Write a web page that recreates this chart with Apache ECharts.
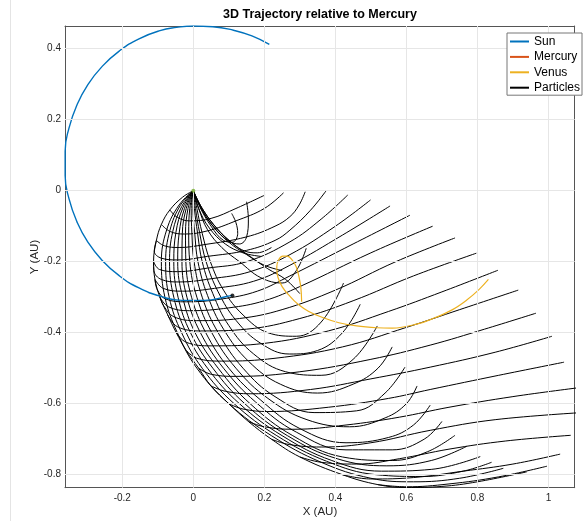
<!DOCTYPE html>
<html><head><meta charset="utf-8">
<script src="https://cdn.jsdelivr.net/npm/echarts@6/dist/echarts.min.js"></script>
<style>html,body{margin:0;padding:0;background:#fff}#c{width:586px;height:521px}</style>
</head><body><div id="c"></div>
<script>
const chartTitle = '3D Trajectory relative to Mercury';
const xName = 'X (AU)', yName = 'Y (AU)';
const xRange = [-0.3614, 1.074];
const yRange = [-0.8366, 0.464];
const xTicks = [-0.2, 0, 0.2, 0.4, 0.6, 0.8, 1];
const yTicks = [-0.8, -0.6, -0.4, -0.2, 0, 0.2, 0.4];
const legendNames = ['Sun', 'Mercury', 'Venus', 'Particles'];

const sunPath = [[0.214,0.412],[0.165,0.436],[0.113,0.452],[0.055,0.462],[0,0.464],[-0.047,0.46],[-0.094,0.451],[-0.153,0.428],[-0.208,0.394],[-0.256,0.351],[-0.297,0.299],[-0.328,0.241],[-0.35,0.177],[-0.361,0.111],[-0.361,0.043],[-0.35,-0.023],[-0.328,-0.087],[-0.297,-0.145],[-0.256,-0.197],[-0.208,-0.24],[-0.153,-0.274],[-0.094,-0.297],[-0.032,-0.309],[0.032,-0.309],[0.094,-0.298],[0.11,-0.295]];
const sunEnd = [[0.11,-0.295]];
const mercuryPath = [[0,0],[0,0]];
const mercuryMark = [[0,0]];
const venusPath = [[0.305,-0.313],[0.303,-0.275],[0.298,-0.245],[0.29,-0.215],[0.278,-0.195],[0.265,-0.184],[0.252,-0.184],[0.24,-0.195],[0.235,-0.215],[0.238,-0.243],[0.25,-0.27],[0.27,-0.295],[0.295,-0.32],[0.325,-0.34],[0.366,-0.358],[0.41,-0.372],[0.46,-0.381],[0.517,-0.386],[0.56,-0.387],[0.629,-0.376],[0.68,-0.358],[0.73,-0.335],[0.77,-0.308],[0.805,-0.278],[0.831,-0.25]];

// outer (left / bottom) particle envelope
const envelopePath = [[0,0],[-0.03,-0.018],[-0.066,-0.054],[-0.09,-0.095],[-0.104,-0.14],[-0.112,-0.2],[-0.108,-0.25],[-0.094,-0.3],[-0.072,-0.35],[-0.048,-0.4],[-0.02,-0.45],[0.015,-0.5],[0.05,-0.55],[0.1,-0.6],[0.155,-0.65],[0.22,-0.7],[0.3,-0.75],[0.42,-0.8],[0.52,-0.828],[0.6,-0.836],[0.7,-0.833],[0.8,-0.82],[0.939,-0.792]];
// arcs that leave the envelope (index of leaving point) and sweep right
const arcLeave = [2,3,4,4,5,5,6,6,7,7,8,9,10,11,12,13,14,15,16,17,18];
const arcPaths = [
 [[-0.045,-0.075],[-0.01,-0.085],[0.05,-0.078],[0.12,-0.05],[0.202,-0.012]],
 [[-0.065,-0.115],[-0.025,-0.122],[0.04,-0.113],[0.12,-0.085],[0.2,-0.05],[0.254,-0.006]],
 [[-0.082,-0.155],[-0.04,-0.16],[0.03,-0.152],[0.15,-0.13],[0.23,-0.1],[0.272,-0.073],[0.298,-0.04],[0.315,-0.003]],
 [[-0.11,-0.17],[-0.09,-0.19],[-0.045,-0.195],[0.04,-0.185],[0.15,-0.168],[0.23,-0.14],[0.272,-0.111],[0.33,-0.055],[0.374,0]],
 [[-0.095,-0.222],[-0.045,-0.228],[0.04,-0.218],[0.15,-0.2],[0.272,-0.144],[0.36,-0.08],[0.435,-0.012]],
 [[-0.111,-0.225],[-0.09,-0.25],[-0.04,-0.257],[0.05,-0.248],[0.16,-0.228],[0.272,-0.18],[0.4,-0.1],[0.499,-0.026]],
 [[-0.085,-0.275],[-0.03,-0.283],[0.06,-0.275],[0.17,-0.255],[0.272,-0.21],[0.42,-0.125],[0.554,-0.043]],
 [[-0.101,-0.28],[-0.078,-0.305],[-0.02,-0.313],[0.08,-0.305],[0.18,-0.283],[0.272,-0.24],[0.45,-0.15],[0.61,-0.069]],
 [[-0.07,-0.327],[-0.01,-0.338],[0.1,-0.33],[0.2,-0.31],[0.3,-0.27],[0.5,-0.175],[0.674,-0.1]],
 [[-0.083,-0.325],[-0.055,-0.355],[0.01,-0.366],[0.13,-0.36],[0.25,-0.335],[0.4,-0.28],[0.57,-0.2],[0.737,-0.133]],
 [[-0.045,-0.383],[0.02,-0.395],[0.15,-0.39],[0.3,-0.36],[0.45,-0.31],[0.62,-0.24],[0.797,-0.176]],
 [[-0.02,-0.427],[0.05,-0.437],[0.2,-0.43],[0.38,-0.395],[0.55,-0.34],[0.7,-0.285],[0.858,-0.224]],
 [[0.01,-0.472],[0.08,-0.48],[0.23,-0.472],[0.42,-0.44],[0.6,-0.385],[0.75,-0.335],[0.915,-0.28]],
 [[0.05,-0.517],[0.12,-0.523],[0.3,-0.51],[0.5,-0.475],[0.667,-0.435],[0.82,-0.39],[0.965,-0.345]],
 [[0.09,-0.565],[0.16,-0.572],[0.33,-0.56],[0.5,-0.53],[0.667,-0.497],[0.85,-0.455],[1.01,-0.41]],
 [[0.14,-0.615],[0.21,-0.622],[0.38,-0.61],[0.55,-0.585],[0.667,-0.56],[0.86,-0.52],[1.044,-0.483]],
 [[0.2,-0.665],[0.28,-0.672],[0.43,-0.66],[0.58,-0.638],[0.72,-0.61],[0.9,-0.58],[1.085,-0.555]],
 [[0.27,-0.715],[0.36,-0.722],[0.5,-0.71],[0.667,-0.675],[0.85,-0.645],[1.095,-0.625]],
 [[0.36,-0.765],[0.46,-0.77],[0.58,-0.755],[0.72,-0.728],[0.88,-0.705],[1.063,-0.689]],
 [[0.5,-0.812],[0.62,-0.808],[0.76,-0.79],[0.9,-0.77],[1.033,-0.742]],
 [[0.6,-0.834],[0.72,-0.826],[0.86,-0.806],[0.996,-0.776]]
];
// tracks fanning down from Mercury and turning up at the end
const fanTracks = [
 [[0,0],[-0.04,-0.04],[-0.075,-0.11],[-0.09,-0.2],[-0.08,-0.3],[-0.045,-0.4],[0.01,-0.5],[0.1,-0.6],[0.22,-0.69],[0.36,-0.765],[0.5,-0.81],[0.62,-0.82],[0.75,-0.81],[0.873,-0.782]],
 [[0,0],[-0.037,-0.042],[-0.066,-0.112],[-0.078,-0.2],[-0.068,-0.3],[-0.033,-0.4],[0.025,-0.5],[0.115,-0.6],[0.235,-0.69],[0.375,-0.762],[0.515,-0.8],[0.645,-0.805],[0.76,-0.79],[0.84,-0.765]],
 [[0,0],[-0.033,-0.045],[-0.058,-0.115],[-0.067,-0.2],[-0.055,-0.3],[-0.02,-0.4],[0.04,-0.5],[0.13,-0.6],[0.25,-0.69],[0.39,-0.76],[0.53,-0.79],[0.67,-0.785],[0.808,-0.749]],
 [[0,0],[-0.029,-0.047],[-0.049,-0.117],[-0.055,-0.2],[-0.043,-0.3],[-0.008,-0.4],[0.055,-0.5],[0.145,-0.6],[0.265,-0.69],[0.405,-0.755],[0.545,-0.775],[0.67,-0.76],[0.77,-0.72]],
 [[0,0],[-0.025,-0.05],[-0.04,-0.12],[-0.044,-0.2],[-0.03,-0.3],[0.005,-0.4],[0.07,-0.5],[0.16,-0.6],[0.28,-0.69],[0.42,-0.75],[0.56,-0.76],[0.66,-0.735],[0.737,-0.689]],
 [[0,0],[-0.02,-0.05],[-0.031,-0.12],[-0.032,-0.2],[-0.018,-0.3],[0.02,-0.4],[0.085,-0.5],[0.175,-0.595],[0.29,-0.68],[0.43,-0.73],[0.56,-0.73],[0.65,-0.7],[0.7,-0.65]],
 [[0,0],[-0.015,-0.05],[-0.022,-0.12],[-0.021,-0.2],[-0.005,-0.3],[0.035,-0.4],[0.1,-0.5],[0.19,-0.59],[0.3,-0.67],[0.43,-0.71],[0.55,-0.695],[0.62,-0.66],[0.667,-0.604]],
 [[0,0],[-0.01,-0.05],[-0.013,-0.12],[-0.01,-0.2],[0.01,-0.3],[0.052,-0.4],[0.12,-0.5],[0.21,-0.585],[0.32,-0.645],[0.44,-0.665],[0.54,-0.64],[0.6,-0.6],[0.63,-0.55]],
 [[0,0],[-0.006,-0.05],[-0.004,-0.12],[0.002,-0.2],[0.025,-0.3],[0.07,-0.4],[0.14,-0.5],[0.23,-0.58],[0.34,-0.625],[0.46,-0.62],[0.54,-0.57],[0.596,-0.497]],
 [[0,0],[-0.001,-0.05],[0.004,-0.12],[0.013,-0.2],[0.04,-0.295],[0.085,-0.39],[0.155,-0.48],[0.245,-0.545],[0.35,-0.57],[0.45,-0.545],[0.52,-0.5],[0.56,-0.44]],
 [[0,0],[0.003,-0.05],[0.012,-0.12],[0.025,-0.2],[0.055,-0.29],[0.1,-0.38],[0.17,-0.46],[0.26,-0.51],[0.36,-0.52],[0.45,-0.475],[0.518,-0.381]],
 [[0,0],[0.006,-0.05],[0.018,-0.12],[0.036,-0.2],[0.07,-0.285],[0.12,-0.365],[0.19,-0.43],[0.27,-0.46],[0.35,-0.45],[0.42,-0.4],[0.47,-0.32]],
 [[0,0],[0.01,-0.05],[0.025,-0.12],[0.048,-0.2],[0.085,-0.28],[0.14,-0.35],[0.21,-0.4],[0.29,-0.41],[0.36,-0.37],[0.423,-0.26]],
 [[0,0],[0.015,-0.05],[0.04,-0.11],[0.08,-0.16],[0.13,-0.2],[0.19,-0.245],[0.25,-0.26],[0.29,-0.225],[0.318,-0.162]]
];
// tracks squeezing through the narrow crossing point below Mercury
const waistTracks = [
 [[0,0],[0.02,-0.045],[0.055,-0.1],[0.1,-0.145],[0.15,-0.18],[0.2,-0.21],[0.25,-0.225]],
 [[0,0],[0.025,-0.05],[0.065,-0.105],[0.11,-0.148],[0.145,-0.17],[0.18,-0.175],[0.22,-0.16]],
 [[0,0],[0.018,-0.045],[0.05,-0.1],[0.085,-0.14],[0.11,-0.145],[0.125,-0.12],[0.12,-0.09],[0.108,-0.064]],
 [[0,0],[0.022,-0.05],[0.06,-0.105],[0.1,-0.142],[0.13,-0.15],[0.15,-0.13],[0.155,-0.08],[0.15,-0.031]],
 [[0,0],[0.028,-0.055],[0.07,-0.11],[0.115,-0.152],[0.16,-0.185],[0.21,-0.22],[0.26,-0.25],[0.3,-0.29]],
 [[0,0],[0.015,-0.05],[0.045,-0.105],[0.09,-0.15],[0.14,-0.175],[0.19,-0.185]]
];

const FONT = '"Liberation Sans", Arial, Helvetica, sans-serif';
const chart = echarts.init(document.getElementById('c'), null, {renderer: 'canvas'});

const arcTracks = arcPaths.map((arc, i) => [envelopePath[arcLeave[i]]].concat(arc));
const allTracks = [envelopePath].concat(arcTracks, fanTracks, waistTracks);
const particleSeries = allTracks.map(tr => ({
  name: 'Particles', type: 'line', data: tr, showSymbol: false, symbol: 'none', smooth: 0.4,
  color: '#000', lineStyle: {color: '#000', width: 1}, z: 3, silent: true, animation: false
}));

const baseAxisX = {
  type: 'value', min: xRange[0], max: xRange[1],
  axisLine: {show: true, onZero: false, lineStyle: {color: '#555', width: 1}},
  axisTick: {show: true, inside: true, length: 5, customValues: xTicks, lineStyle: {color: '#555'}},
  splitLine: {show: false}
};
const baseAxisY = {
  type: 'value', min: yRange[0], max: yRange[1],
  axisLine: {show: true, onZero: false, lineStyle: {color: '#555', width: 1}},
  axisTick: {show: true, inside: true, length: 5, customValues: yTicks, lineStyle: {color: '#555'}},
  splitLine: {show: false}
};

const option = {
  backgroundColor: '#fff',
  animation: false,
  grid: {left: 65, top: 26, right: 11.3, bottom: 33.3, containLabel: false},
  xAxis: [
    Object.assign({}, baseAxisX, {position: 'bottom',
      axisLabel: {show: true, customValues: xTicks, margin: 6, fontSize: 10, color: '#262626', fontFamily: FONT,
        formatter: v => String(Math.round(v * 10) / 10)}}),
    Object.assign({}, baseAxisX, {position: 'top', axisLabel: {show: false}})
  ],
  yAxis: [
    Object.assign({}, baseAxisY, {position: 'left',
      axisLabel: {show: true, customValues: yTicks, margin: 4, fontSize: 10, color: '#262626', fontFamily: FONT,
        formatter: v => String(Math.round(v * 10) / 10)}}),
    Object.assign({}, baseAxisY, {position: 'right', axisLabel: {show: false}})
  ],
  legend: {
    data: legendNames, orient: 'vertical', left: 507, top: 33,
    icon: 'rect', itemWidth: 19, itemHeight: 2, itemGap: 2.4,
    padding: [2, 2, 1, 3], borderColor: '#777', borderWidth: 1, backgroundColor: '#fff',
    textStyle: {fontSize: 12, color: '#000', fontFamily: FONT, lineHeight: 13}, z: 10
  },
  graphic: [
    {type: 'text', x: 320, y: 15, style: {text: chartTitle, textAlign: 'center', textVerticalAlign: 'middle', font: 'bold 12.5px ' + FONT, fill: '#000'}},
    {type: 'text', x: 320, y: 512, style: {text: xName, textAlign: 'center', textVerticalAlign: 'middle', font: '11.5px ' + FONT, fill: '#262626'}},
    {type: 'text', x: 35, y: 257, rotation: Math.PI / 2, style: {text: yName, textAlign: 'center', textVerticalAlign: 'middle', font: '11.5px ' + FONT, fill: '#262626'}},
    {type: 'line', shape: {x1: 10.5, y1: 0, x2: 10.5, y2: 521}, style: {stroke: '#e4e4e4', lineWidth: 1}}
  ],
  series: [
    {name: 'gridlines', type: 'line', data: [], silent: true, z: 1,
      markLine: {silent: true, symbol: ['none', 'none'], label: {show: false}, animation: false,
        lineStyle: {color: '#e6e6e6', width: 1, type: 'solid'},
        data: xTicks.map(v => ({xAxis: v})).concat(yTicks.map(v => ({yAxis: v})))}},
    ...particleSeries,
    {name: 'Sun', type: 'line', data: sunPath, showSymbol: false, symbol: 'none', smooth: 0.5, color: '#0072BD',
      lineStyle: {color: '#0072BD', width: 1.4}, z: 4, silent: true},
    {name: 'Mercury', type: 'line', data: mercuryPath, showSymbol: false, symbol: 'none', color: '#D95319',
      lineStyle: {color: '#D95319', width: 1.4}, z: 4, silent: true},
    {name: 'Venus', type: 'line', data: venusPath, showSymbol: false, symbol: 'none', smooth: 0.4, color: '#EDB120',
      lineStyle: {color: '#EDB120', width: 1.2}, z: 4, silent: true},
    {name: 'sunEndMark', type: 'scatter', data: sunEnd, symbolSize: 4, itemStyle: {color: '#000'}, z: 5, silent: true},
    {name: 'mercuryMark', type: 'scatter', data: mercuryMark, symbolSize: 4, itemStyle: {color: '#77AC30'}, z: 5, silent: true}
  ]
};
chart.setOption(option);
</script>
</body></html>
